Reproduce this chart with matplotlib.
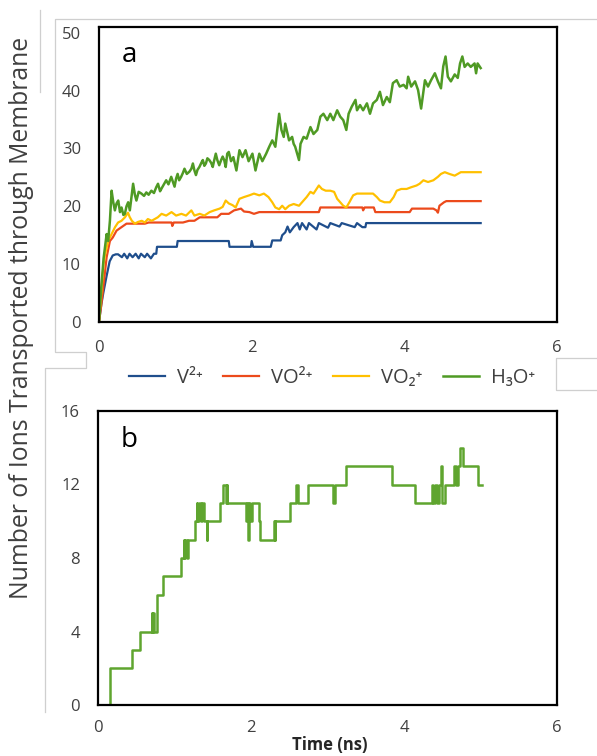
import numpy as np
import matplotlib
matplotlib.use('Agg')
import matplotlib.pyplot as plt
from matplotlib.lines import Line2D

plt.rcParams['font.family'] = ['Open Sans', 'DejaVu Sans']

# panel a: iones transportados vs tiempo (ns)
t_v2 = [0, 0.03, 0.056, 0.10, 0.14, 0.18, 0.22,
        0.25, 0.30, 0.33, 0.37, 0.40, 0.44, 0.48, 0.52, 0.55, 0.60, 0.63, 0.68, 0.72, 0.75,
        0.76, 1.02, 1.03, 1.70, 1.71, 1.99, 2.00, 2.02, 2.25, 2.27, 2.38,
        2.40, 2.44, 2.47, 2.50, 2.55, 2.60,
        2.63, 2.66, 2.72, 2.75, 2.85, 2.88, 3.00, 3.03, 3.15, 3.18, 3.35, 3.38, 3.45, 3.49, 3.50, 5.00]
n_v2 = [0, 3, 5, 8, 10.5, 11.5, 11.7,
        11.7, 11.2, 11.8, 11.0, 11.8, 11.2, 11.8, 11.0, 11.8, 11.2, 11.8, 11.0, 11.8, 11.8,
        13.0, 13.0, 14.0, 14.0, 13.0, 13.0, 14.0, 13.0, 13.0, 14.1, 14.1,
        15.0, 15.5, 16.5, 15.5, 16.4, 17.1,
        16.0, 17.1, 16.0, 17.1, 16.0, 17.1, 16.3, 17.1, 16.5, 17.1, 16.4, 17.1, 16.4, 16.4, 17.1, 17.1]

t_vo = [0, 0.03, 0.056, 0.10, 0.143, 0.18, 0.23, 0.295, 0.36, 0.60,
        0.65, 0.95, 0.96, 0.98, 1.10, 1.18, 1.25, 1.32, 1.55, 1.60,
        1.70, 1.77, 1.86, 1.90, 1.97, 2.03, 2.10, 2.88, 2.90, 3.45,
        3.46, 3.48, 3.60, 3.62, 4.07, 4.10, 4.38, 4.42, 4.44, 4.46,
        4.52, 4.55, 5.00]
n_vo = [0, 3, 6, 11.2, 14.0, 14.6, 15.8, 16.4, 17.0, 17.0,
        17.2, 17.2, 16.6, 17.2, 17.2, 17.5, 17.5, 18.1, 18.1, 18.7,
        18.7, 19.3, 19.6, 19.1, 19.0, 18.7, 19.0, 19.0, 19.8, 19.8,
        19.3, 19.8, 19.8, 19.0, 19.0, 19.6, 19.6, 19.3, 18.9, 20.1,
        20.7, 20.9, 20.9]

t_vo2 = [0, 0.03, 0.06, 0.08, 0.12, 0.165, 0.21, 0.25, 0.295, 0.34,
         0.38, 0.40, 0.43, 0.47, 0.51, 0.56, 0.60, 0.64, 0.69, 0.73,
         0.77, 0.82, 0.88, 0.95, 1.01, 1.08, 1.14, 1.21, 1.25, 1.32,
         1.38, 1.45, 1.51, 1.58, 1.62, 1.66, 1.70, 1.75, 1.79, 1.84,
         1.90, 1.97, 2.03, 2.10, 2.16, 2.22, 2.27, 2.31, 2.36, 2.40,
         2.44, 2.49, 2.55, 2.62, 2.68, 2.72, 2.77, 2.81, 2.88, 2.92,
         2.97, 3.03, 3.08, 3.12, 3.16, 3.20, 3.24, 3.28, 3.33, 3.38,
         3.42, 3.51, 3.59, 3.64, 3.68, 3.74, 3.81, 3.86, 3.90, 3.96,
         4.03, 4.09, 4.16, 4.20, 4.25, 4.31, 4.38, 4.44, 4.48, 4.53,
         4.59, 4.66, 4.70, 4.74, 4.81, 5.00]
n_vo2 = [0, 5, 10, 11.7, 14.0, 15.2, 16.4, 17.2, 17.5, 18.1,
         18.9, 18.2, 17.5, 17.0, 17.3, 17.5, 17.2, 17.8, 17.5, 17.8,
         18.1, 18.7, 18.4, 19.0, 18.4, 18.7, 18.4, 19.3, 18.4, 18.7,
         18.4, 19.0, 19.3, 19.6, 19.9, 21.0, 20.5, 20.2, 19.8, 21.3,
         21.6, 21.9, 22.2, 21.9, 22.2, 21.6, 20.7, 19.8, 19.5, 20.1,
         19.5, 20.1, 20.4, 20.1, 21.0, 21.6, 22.5, 22.2, 23.6, 23.0,
         22.7, 22.7, 22.5, 21.3, 20.7, 20.1, 19.8, 20.7, 21.9, 22.2,
         22.2, 22.2, 22.2, 21.6, 21.0, 20.7, 20.7, 21.6, 22.7, 23.0,
         23.0, 23.3, 23.6, 23.9, 24.5, 24.2, 24.5, 25.1, 25.6, 25.9,
         25.6, 25.3, 25.6, 25.9, 25.9, 25.9]

t_h3o = [0, 0.03, 0.06, 0.10, 0.12, 0.143, 0.165, 0.187, 0.208, 0.23,
         0.252, 0.275, 0.295, 0.32, 0.339, 0.36, 0.382, 0.404, 0.425, 0.447,
         0.47, 0.49, 0.52, 0.556, 0.59, 0.62, 0.65, 0.686, 0.72, 0.75,
         0.773, 0.80, 0.816, 0.85, 0.88, 0.91, 0.946, 0.97, 0.99, 1.01,
         1.03, 1.05, 1.076, 1.10, 1.12, 1.15, 1.185, 1.21, 1.23, 1.25,
         1.27, 1.29, 1.315, 1.34, 1.36, 1.38, 1.40, 1.42, 1.445, 1.47,
         1.49, 1.51, 1.53, 1.55, 1.575, 1.60, 1.62, 1.64, 1.66, 1.68,
         1.70, 1.73, 1.76, 1.80, 1.84, 1.88, 1.92, 1.96, 2.01, 2.05,
         2.10, 2.14, 2.19, 2.23, 2.27, 2.31, 2.36, 2.39, 2.42, 2.44,
         2.49, 2.53, 2.55, 2.57, 2.62, 2.64, 2.68, 2.72, 2.77, 2.81,
         2.86, 2.90, 2.94, 2.99, 3.03, 3.07, 3.12, 3.16, 3.20, 3.24,
         3.27, 3.31, 3.36, 3.38, 3.42, 3.46, 3.51, 3.55, 3.59, 3.64,
         3.68, 3.72, 3.77, 3.81, 3.85, 3.90, 3.94, 3.99, 4.03, 4.05,
         4.09, 4.14, 4.18, 4.22, 4.27, 4.31, 4.35, 4.40, 4.44, 4.48,
         4.51, 4.54, 4.57, 4.61, 4.66, 4.70, 4.73, 4.76, 4.79, 4.83,
         4.87, 4.92, 4.94, 4.96, 5.00]
n_h3o = [0, 6, 11, 15.2, 14.0, 17.5, 22.7, 20.7, 19.3, 20.5,
         21.0, 19.0, 19.8, 18.5, 18.7, 20.0, 20.7, 19.3, 21.5, 23.9,
         22.0, 21.0, 22.5, 22.2, 21.8, 22.4, 22.0, 22.7, 22.3, 23.3,
         23.9, 22.6, 23.0, 23.8, 24.5, 23.8, 25.1, 24.2, 23.4, 24.8,
         25.6, 24.5, 25.1, 25.8, 26.5, 25.6, 26.0, 26.5, 27.4, 26.2,
         25.4, 26.3, 26.8, 27.5, 28.0, 27.0, 27.4, 28.3, 28.0, 27.5,
         26.8, 28.0, 29.1, 28.0, 27.1, 28.0, 28.6, 28.0, 26.8, 29.1,
         29.4, 27.8, 28.5, 26.2, 29.7, 28.5, 29.7, 27.8, 29.1, 26.2,
         29.1, 27.8, 29.1, 30.3, 31.4, 30.3, 36.0, 33.2, 32.0, 34.3,
         31.4, 32.0, 30.8, 30.3, 28.0, 30.8, 32.0, 31.7, 33.7, 32.5,
         33.2, 35.5, 36.0, 34.9, 36.0, 34.9, 36.6, 35.5, 34.9, 33.2,
         36.0, 37.2, 38.4, 36.6, 37.5, 36.6, 37.8, 36.0, 37.8, 38.4,
         39.8, 37.5, 38.9, 38.0, 41.3, 41.8, 40.7, 41.0, 40.4, 42.4,
         40.7, 41.6, 40.1, 36.9, 41.8, 40.7, 41.8, 43.0, 41.6, 40.4,
         44.2, 45.9, 42.4, 41.6, 42.8, 42.2, 44.7, 45.9, 44.1, 44.7,
         44.1, 44.7, 43.0, 44.7, 43.9]

# panel b: escalones (valor vale desde t[i] hasta t[i+1])
t_b = [0.0, 0.157, 0.44, 0.55, 0.70, 0.71, 0.72, 0.73, 0.77, 0.854,
       1.09, 1.12, 1.13, 1.14, 1.16, 1.17, 1.27, 1.29, 1.30, 1.32,
       1.34, 1.36, 1.38, 1.42, 1.43, 1.595, 1.64, 1.67, 1.68, 1.69,
       1.94, 1.95, 1.96, 1.97, 1.99, 2.01, 2.10, 2.12, 2.30, 2.31,
       2.32, 2.51, 2.59, 2.61, 2.75, 3.07, 3.10, 3.24, 3.84, 4.14,
       4.36, 4.38, 4.41, 4.43, 4.46, 4.49, 4.50, 4.54, 4.66, 4.68,
       4.70, 4.73, 4.77, 4.97, 5.02]
n_b = [0, 2, 3, 4, 5, 4, 5, 4, 6, 7,
       8, 9, 8, 9, 8, 9, 10, 11, 10, 11,
       10, 11, 10, 9, 10, 11, 12, 11, 12, 11,
       10, 11, 9, 11, 10, 11, 10, 9, 10, 9,
       10, 11, 12, 11, 12, 11, 12, 13, 12, 11,
       12, 11, 12, 11, 12, 13, 11, 12, 13, 12,
       13, 14, 13, 12, 12]

colores = ['#1f4e8c', '#ec4a1c', '#ffc000', '#4f9a24']
etiquetas = ['V²⁺', 'VO²⁺', 'VO₂⁺', 'H₃O⁺']

W, H = 597, 756
fig = plt.figure(figsize=(W / 100, H / 100), dpi=100)

def caja(x0, y0, x1, y1):
    # ejes en coordenadas de pixel (origen arriba a la izquierda)
    return fig.add_axes([x0 / W, 1 - y1 / H, (x1 - x0) / W, (y1 - y0) / H])

# bordes grises de la captura original
gris = '#cfcfcf'
def linea(xs, ys):
    fig.add_artist(Line2D(np.array(xs) / W, 1 - np.array(ys) / H,
                          color=gris, lw=0.9, transform=fig.transFigure))

linea([40, 40], [10, 92])
linea([597, 55, 55, 86, 86, 45, 45], [19, 19, 352, 352, 368, 368, 712])
linea([597, 556, 556, 597], [358, 358, 390, 390])

ax1 = caja(99, 27, 557, 322)
ax2 = caja(98, 411, 557, 705)

ax1.plot(t_v2, n_v2, color=colores[0], lw=1.6, label=etiquetas[0])
ax1.plot(t_vo, n_vo, color=colores[1], lw=1.6, label=etiquetas[1])
ax1.plot(t_vo2, n_vo2, color=colores[2], lw=1.6, label=etiquetas[2])
ax1.plot(t_h3o, n_h3o, color=colores[3], lw=1.8, label=etiquetas[3])
ax1.set_xlim(0, 6)
ax1.set_ylim(0, 51)
ax1.set_yticks([0, 10, 20, 30, 40, 50])
ax1.set_xticks([0, 2, 4, 6])
ax1.text(0.05, 0.881, 'a', transform=ax1.transAxes, fontsize=20, va='baseline')

ax2.step(t_b, n_b, where='post', color='#5fa52f', lw=1.8)
ax2.set_xlim(0, 6)
ax2.set_ylim(0, 16)
ax2.set_yticks([0, 4, 8, 12, 16])
ax2.set_xticks([0, 2, 4, 6])
ax2.text(0.05, 0.878, 'b', transform=ax2.transAxes, fontsize=20, va='baseline')

for ax, px in ((ax1, 13), (ax2, 11)):
    for s in ax.spines.values():
        s.set_color('black')
        s.set_linewidth(1.6)
    ax.tick_params(length=0, labelsize=12, colors='#404040')
    ax.tick_params(axis='x', pad=px)
    ax.tick_params(axis='y', pad=13)

fig.legend(*ax1.get_legend_handles_labels(), loc='center',
           bbox_to_anchor=(332 / W, 1 - 378 / H), ncol=4, frameon=False,
           prop={'family': ['Open Sans', 'DejaVu Sans'], 'size': 14.5},
           handlelength=1.8, handletextpad=0.6, columnspacing=1.0,
           labelcolor='#404040')

fig.text(22 / W, 1 - 318 / H, 'Number of Ions Transported through Membrane',
         rotation=90, ha='center', va='center', fontsize=17.8, color='#404040')
fig.text(330 / W, 1 - 745 / H, 'Time (ns)', ha='center', va='center',
         fontsize=12, fontweight='bold', color='#262626')

fig.savefig('out.png', dpi=100)
